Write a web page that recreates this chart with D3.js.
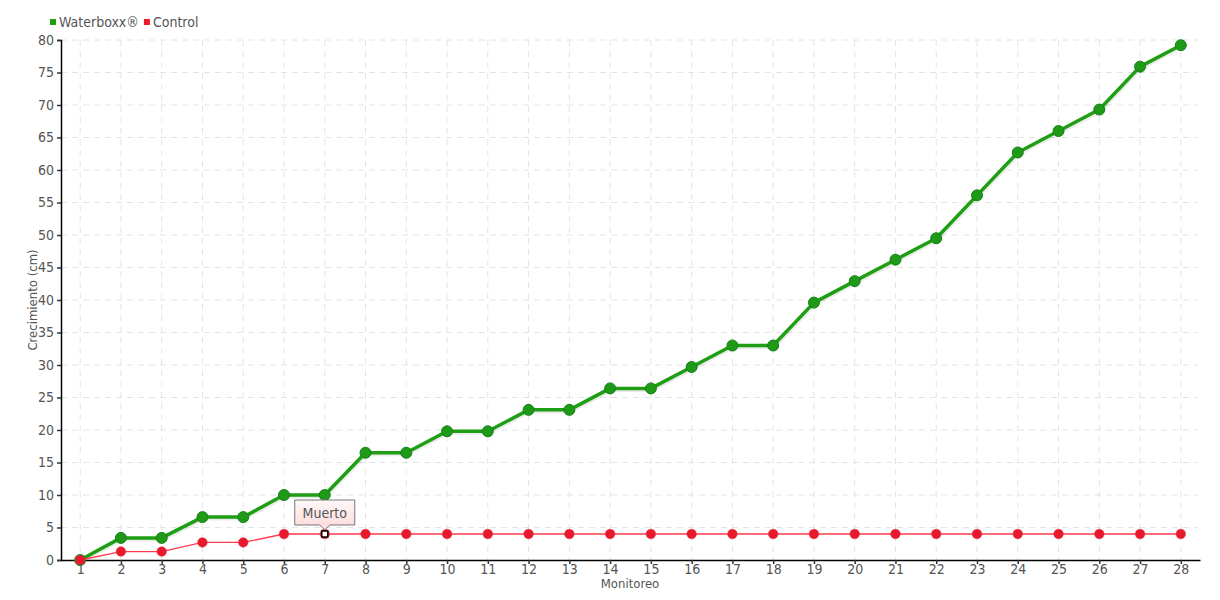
<!DOCTYPE html>
<html><head><meta charset="utf-8">
<script src="https://cdnjs.cloudflare.com/ajax/libs/d3/7.8.5/d3.min.js"></script>
<style>
body{margin:0;background:#fff;}
svg text{font-family:"DejaVu Sans Condensed","Liberation Sans Narrow","Roboto",sans-serif;font-stretch:condensed;fill:#555;}
</style></head>
<body><svg id="c" width="1220" height="600"></svg>
<script>
const categories = d3.range(1, 29).map(String);
const waterboxx = [0,3.4,3.4,6.6,6.6,10,10,16.5,16.5,19.8,19.8,23.1,23.1,26.4,26.4,29.7,33,33,39.6,42.9,46.2,49.5,56.1,62.7,66,69.3,75.9,79.2];
const control = [0,1.3,1.3,2.7,2.7,4,4,4,4,4,4,4,4,4,4,4,4,4,4,4,4,4,4,4,4,4,4,4];
const yTicks = d3.range(0, 81, 5);
const seriesNames = ["Waterboxx®", "Control"];
const annotation = {series: "Control", index: 6, label: "Muerto"};

const svg = d3.select("#c");
const plot = {left: 61, right: 1200, top: 40, bottom: 560};
const x = d3.scalePoint().domain(categories).range([plot.left, plot.right]).padding(0.47);
const y = d3.scaleLinear().domain([0, 80]).range([plot.bottom, plot.top]);

// grid
const g = svg.append("g");
g.selectAll("line.h").data(yTicks.filter(d => d > 0)).join("line")
  .attr("x1", plot.left).attr("x2", plot.right - 2)
  .attr("y1", d => y(d)).attr("y2", d => y(d))
  .attr("stroke", "#e4e4e4").attr("stroke-width", 1).attr("stroke-dasharray", "6,5");
g.selectAll("line.v").data(categories).join("line")
  .attr("x1", d => x(d)).attr("x2", d => x(d))
  .attr("y1", plot.top).attr("y2", plot.bottom)
  .attr("stroke", "#e4e4e4").attr("stroke-width", 1).attr("stroke-dasharray", "6,5");

// axes
const yAxis = svg.append("g").attr("transform", `translate(${plot.left},0)`)
  .call(d3.axisLeft(y).tickValues(yTicks).tickSize(4).tickPadding(3));
yAxis.select(".domain").attr("stroke", "#000").attr("stroke-width", 1.5);
yAxis.selectAll(".tick line").attr("stroke", "#333").attr("stroke-width", 1.5);
yAxis.selectAll("text").style("font-size", "14px").attr("fill", "#555");

const xAxis = svg.append("g").attr("transform", `translate(0,${plot.bottom})`)
  .call(d3.axisBottom(x).tickSize(4).tickSizeOuter(0).tickPadding(0));
xAxis.select(".domain").attr("stroke", "#000").attr("stroke-width", 1.5);
xAxis.selectAll(".tick line").attr("stroke", "#333").attr("stroke-width", 1.5);
xAxis.selectAll("text").style("font-size", "14px").attr("fill", "#555");

// axis titles
svg.append("text").attr("x", 630).attr("y", 588).attr("text-anchor", "middle")
  .style("font-size", "13px").text("Monitoreo");
svg.append("text").attr("transform", "translate(37,300) rotate(-90)").attr("text-anchor", "middle")
  .style("font-size", "13px").text("Crecimiento (cm)");

const line = d3.line().x((d, i) => x(categories[i])).y(d => y(d));

// Waterboxx series with shadow
svg.append("path").datum(waterboxx).attr("d", line).attr("fill", "none")
  .attr("stroke", "rgba(0,0,0,0.08)").attr("stroke-width", 4).attr("transform", "translate(1,1.5)");
svg.append("path").datum(waterboxx).attr("d", line).attr("fill", "none")
  .attr("stroke", "#1e9e12").attr("stroke-width", 3.5).attr("stroke-linejoin", "round");
svg.append("g").selectAll("circle").data(waterboxx).join("circle")
  .attr("cx", (d, i) => x(categories[i])).attr("cy", d => y(d)).attr("r", 5.5)
  .attr("fill", "#1f9a17").attr("stroke", "#16801a").attr("stroke-width", 1);

// Control series
svg.append("path").datum(control).attr("d", line).attr("fill", "none")
  .attr("stroke", "#ff3a4c").attr("stroke-width", 1.3);
svg.append("g").selectAll("circle").data(control).join("circle")
  .attr("cx", (d, i) => x(categories[i])).attr("cy", d => y(d)).attr("r", 4.8)
  .attr("fill", "#e8192c").attr("stroke", "#e23040").attr("stroke-width", 0.5);

// annotation
const ax = x(categories[annotation.index]), ay = y(control[annotation.index]);
svg.append("rect").attr("x", ax - 3).attr("y", ay - 3).attr("width", 6).attr("height", 6)
  .attr("fill", "#fff").attr("stroke", "#000").attr("stroke-width", 1.5);
const defs = svg.append("defs");
const grad = defs.append("linearGradient").attr("id", "tipg").attr("x1", 0).attr("x2", 0).attr("y1", 0).attr("y2", 1);
grad.append("stop").attr("offset", "0%").attr("stop-color", "#fff8f8");
grad.append("stop").attr("offset", "100%").attr("stop-color", "#fcd9d9");
const bw = 60, bh = 25, by = ay - 34;
svg.append("path")
  .attr("d", `M${ax - bw/2},${by} h${bw} v${bh} h${-bw/2 + 5} l-5,5 l-5,-5 h${-bw/2 + 5} Z`)
  .attr("fill", "url(#tipg)").attr("stroke", "#777").attr("stroke-width", 1);
svg.append("text").attr("x", ax).attr("y", by + 18).attr("text-anchor", "middle")
  .style("font-size", "14px").attr("fill", "#555").text(annotation.label);

// legend
const legendColors = ["#1ea012", "#ee1a2e"];
const lg = svg.append("g");
let lx = 50;
seriesNames.forEach((n, i) => {
  lg.append("rect").attr("x", lx).attr("y", 19).attr("width", 6).attr("height", 6).attr("fill", legendColors[i]);
  const t = lg.append("text").attr("x", lx + 9).attr("y", 27).style("font-size", "14px").attr("fill", "#555").text(n);
  lx += 9 + t.node().getComputedTextLength() + 5;
});
</script></body></html>
